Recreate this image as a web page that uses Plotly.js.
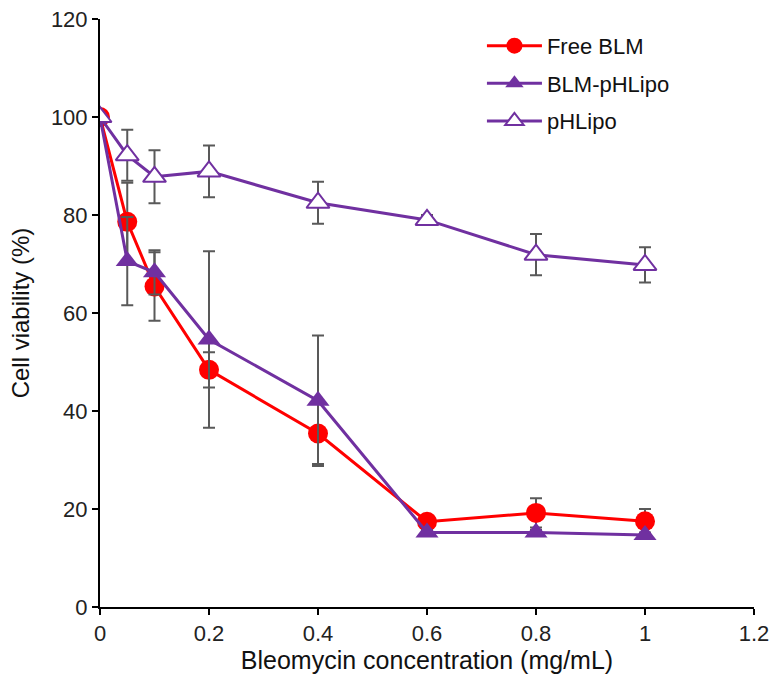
<!DOCTYPE html>
<html>
<head>
<meta charset="utf-8">
<script src="https://cdn.plot.ly/plotly-3.0.1.min.js"></script>
<style>html,body{margin:0;padding:0;background:#fff;}#chart{width:780px;height:692px;}</style>
</head>
<body>
<div id="chart"></div>
<script>
const conc = [0, 0.05, 0.1, 0.2, 0.4, 0.6, 0.8, 1];
const freeBLM = [100, 78.6, 65.4, 48.4, 35.4, 17.4, 19.2, 17.5];
const freeBLMErr = [0, 8, 7, 3.6, 6.2, 1, 3, 2.5];
const blmPHLipo = [100, 70.6, 68.3, 54.6, 42.1, 15.2, 15.2, 14.7];
const blmPHLipoErr = [0, 9, 4.5, 18, 13.3, 0.5, 0.5, 0.5];
const pHLipo = [100, 92.2, 87.8, 88.9, 82.5, 79.0, 71.9, 69.8];
const pHLipoErr = [0, 5.2, 5.4, 5.3, 4.3, 1, 4.2, 3.6];
const xTicks = [0, 0.2, 0.4, 0.6, 0.8, 1, 1.2];
const xTickText = ['0', '0.2', '0.4', '0.6', '0.8', '1', '1.2'];
const yTicks = [0, 20, 40, 60, 80, 100, 120];

const RED = '#FF0000';
const PURPLE = '#7030A0';
const ERR = {type: 'data', visible: true, color: '#595959', thickness: 2, width: 6};

const traces = [
  {x: conc, y: freeBLM, name: 'Free BLM', legendgroup: 'a', mode: 'lines+markers', type: 'scatter',
   line: {color: RED, width: 3},
   marker: {symbol: 'circle', size: 20, color: RED},
   error_y: Object.assign({array: freeBLMErr}, ERR)},
  {x: conc, y: blmPHLipo, name: 'BLM-pHLipo', legendgroup: 'b', mode: 'lines+markers', type: 'scatter',
   line: {color: PURPLE, width: 3},
   marker: {symbol: 'triangle-up', size: 20, color: PURPLE},
   error_y: Object.assign({array: blmPHLipoErr}, ERR)},
  {x: conc, y: pHLipo, name: 'pHLipo', legendgroup: 'c', mode: 'lines+markers', type: 'scatter',
   line: {color: PURPLE, width: 3},
   marker: {symbol: 'triangle-up', size: 20, color: '#FFFFFF', line: {color: PURPLE, width: 2}},
   error_y: Object.assign({array: pHLipoErr}, ERR)}
];

const layout = {
  width: 780, height: 692,
  margin: {l: 100, r: 26, t: 19, b: 85},
  paper_bgcolor: '#fff', plot_bgcolor: '#fff',
  font: {family: 'Liberation Sans, Arial, sans-serif', size: 22, color: '#000'},
  showlegend: true,
  legend: {x: 0.584, y: 0.99, xanchor: 'left', yanchor: 'top', bgcolor: 'rgba(0,0,0,0)',
           font: {size: 22, color: '#111'}, tracegroupgap: 6, itemwidth: 55},
  xaxis: {range: [0, 1.2], tickvals: xTicks, ticktext: xTickText, showgrid: false, zeroline: false,
          showline: true, linecolor: '#000', linewidth: 2, ticks: 'outside', ticklen: 6, tickwidth: 2,
          tickcolor: '#000', title: {text: 'Bleomycin concentration (mg/mL)', font: {size: 25, color: '#111'}, standoff: 6},
          tickfont: {size: 22, color: '#222'}},
  yaxis: {range: [0, 120], tickvals: yTicks, showgrid: false, zeroline: false,
          showline: true, linecolor: '#000', linewidth: 2, ticks: 'outside', ticklen: 6, tickwidth: 2,
          tickcolor: '#000', title: {text: 'Cell viability (%)', font: {size: 24, color: '#111'}, standoff: 14},
          tickfont: {size: 22, color: '#222'}}
};

Plotly.newPlot('chart', traces, layout, {displayModeBar: false, staticPlot: true});
</script>
</body>
</html>
